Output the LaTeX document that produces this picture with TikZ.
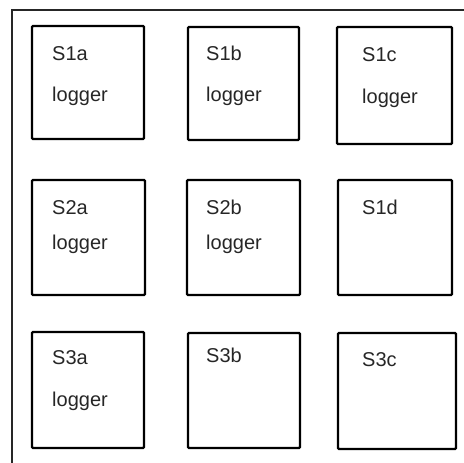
\documentclass[tikz,border=0pt]{standalone}
\usepackage{fontspec}
\setmainfont{Liberation Sans}
\begin{document}
\begin{tikzpicture}[x=1pt,y=-1pt,
  cell/.style={draw=black,line width=2.2pt,rounded corners=1pt},
  lbl/.style={anchor=base west,inner sep=0pt,font=\fontsize{20}{20}\selectfont,text=black!85},
  frame/.style={draw=black!85,line width=1.6pt}]
\useasboundingbox (0,0) rectangle (464,463);
\coordinate (fbl) at (12,463);
\coordinate (ftl) at (12,10);
\coordinate (ftr) at (464,10);
\draw[frame] (fbl) -- (ftl) -- (ftr);
% boxes
\path[cell] (32,26) rectangle (144,139) node[midway] (b1a) {};
\path[cell] (188,27) rectangle (299,140) node[midway] (b1b) {};
\path[cell] (337,27) rectangle (452,144) node[midway] (b1c) {};
\path[cell] (32,180) rectangle (145,295) node[midway] (b2a) {};
\path[cell] (187,180) rectangle (300,295) node[midway] (b2b) {};
\path[cell] (338,180) rectangle (452,295) node[midway] (b1d) {};
\path[cell] (32,332) rectangle (144,448) node[midway] (b3a) {};
\path[cell] (188,333) rectangle (300,448) node[midway] (b3b) {};
\path[cell] (338,333) rectangle (456,449) node[midway] (b3c) {};
% labels
\node[lbl] (t1a) at (52,60) {S1a};
\node[lbl] (l1a) at (52,101) {logger};
\node[lbl] (t1b) at (206,60) {S1b};
\node[lbl] (l1b) at (206,101) {logger};
\node[lbl] (t1c) at (362,61) {S1c};
\node[lbl] (l1c) at (362,103) {logger};
\node[lbl] (t2a) at (52,214) {S2a};
\node[lbl] (l2a) at (52,249) {logger};
\node[lbl] (t2b) at (206,214) {S2b};
\node[lbl] (l2b) at (206,249) {logger};
\node[lbl] (t1d) at (362,214) {S1d};
\node[lbl] (t3a) at (52,364) {S3a};
\node[lbl] (l3a) at (52,406) {logger};
\node[lbl] (t3b) at (206,362) {S3b};
\node[lbl] (t3c) at (362,366) {S3c};
\end{tikzpicture}
\end{document}
